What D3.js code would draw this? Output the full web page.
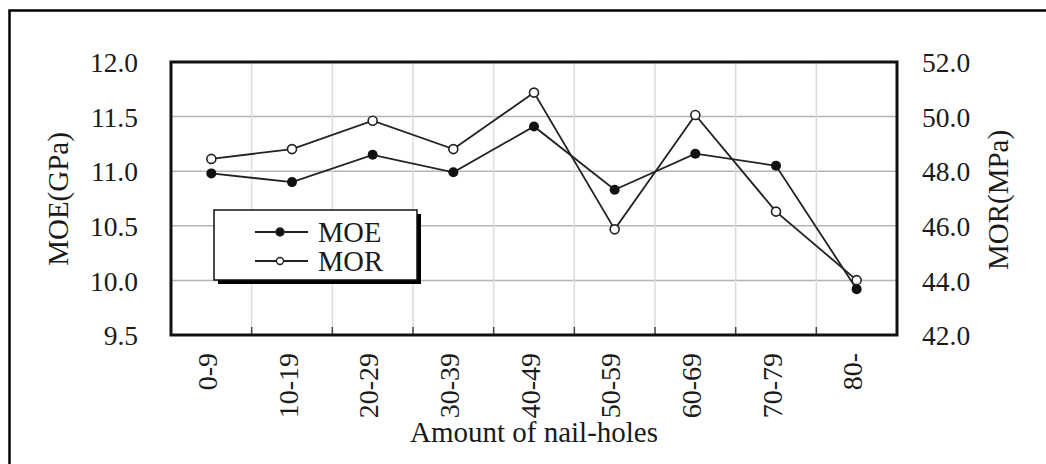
<!DOCTYPE html>
<html>
<head>
<meta charset="utf-8">
<script src="https://cdn.jsdelivr.net/npm/d3@7"></script>
<style>
  body { margin: 0; background: #fff; }
  svg { display: block; }
  text { font-family: "Liberation Serif", "DejaVu Serif", serif; fill: #1a1a1a; }
</style>
</head>
<body>
<svg width="1046" height="464"></svg>
<script>
      const categories = ['0-9', '10-19', '20-29', '30-39', '40-49', '50-59', '60-69', '70-79', '80-'];
      const moeValues = [10.98, 10.90, 11.15, 10.99, 11.41, 10.83, 11.16, 11.05, 9.92];
      const morValues = [48.45, 48.81, 49.85, 48.81, 50.88, 45.87, 50.06, 46.52, 44.01];
      const moeTicks = [9.5, 10.0, 10.5, 11.0, 11.5, 12.0];
      const morTicks = [42, 44, 46, 48, 50, 52];
      const xLabel = 'Amount of nail-holes';
      const moeLabel = 'MOE(GPa)';
      const morLabel = 'MOR(MPa)';

      const margin = { left: 171, right: 149, top: 62, bottom: 129 };

      const svg = d3.select('svg');
      const width = +svg.attr('width');
      const height = +svg.attr('height');
      const innerWidth = width - margin.left - margin.right;
      const innerHeight = height - margin.top - margin.bottom;

      // outer frame, open at right and bottom (cut off in the picture)
      svg.append('path')
        .attr('d', `M9.5,${height} V10.5 H${width}`)
        .attr('fill', 'none').attr('stroke', '#000').attr('stroke-width', 2.5);

      const g = svg.append('g')
        .attr('transform', `translate(${margin.left},${margin.top})`);

      const xScale = d3.scaleBand().domain(categories).range([0, innerWidth]).padding(0);
      const yLeft = d3.scaleLinear().domain([9.5, 12.0]).range([innerHeight, 0]);
      const yRight = d3.scaleLinear().domain([42, 52]).range([innerHeight, 0]);

      // grid
      g.append('g').selectAll('line').data(moeTicks.slice(1, -1))
        .enter().append('line')
          .attr('x1', 0).attr('x2', innerWidth)
          .attr('y1', d => yLeft(d)).attr('y2', d => yLeft(d))
          .attr('stroke', '#b5b5b5').attr('stroke-width', 1.5);
      g.append('g').selectAll('line').data(categories.slice(1))
        .enter().append('line')
          .attr('x1', d => xScale(d)).attr('x2', d => xScale(d))
          .attr('y1', 0).attr('y2', innerHeight)
          .attr('stroke', '#dcdcdc').attr('stroke-width', 1.5);

      // axes
      const yAxisL = d3.axisLeft(yLeft).tickValues(moeTicks).tickFormat(d3.format('.1f'))
        .tickSize(0).tickPadding(33);
      const yAxisR = d3.axisRight(yRight).tickValues(morTicks).tickFormat(d3.format('.1f'))
        .tickSize(0).tickPadding(25);

      const yAxisLG = g.append('g').call(yAxisL);
      const yAxisRG = g.append('g').attr('transform', `translate(${innerWidth},0)`).call(yAxisR);
      [yAxisLG, yAxisRG].forEach(a => {
        a.select('.domain').remove();
        a.selectAll('text').attr('font-size', 27.5).attr('font-family', null).attr('dy', '0.35em');
      });

      const xAxisG = g.append('g').attr('transform', `translate(0,${innerHeight})`);
      xAxisG.selectAll('text').data(categories)
        .enter().append('text')
          .attr('transform', d => `translate(${xScale(d) + xScale.bandwidth() / 2 - 4},18) rotate(-90)`)
          .attr('text-anchor', 'end')
          .attr('dy', '0.35em')
          .attr('font-size', 28)
          .text(d => d);
      xAxisG.selectAll('line.tick').data(categories.slice(1))
        .enter().append('line')
          .attr('class', 'tick')
          .attr('x1', d => xScale(d)).attr('x2', d => xScale(d))
          .attr('y1', 0).attr('y2', -8)
          .attr('stroke', '#444').attr('stroke-width', 1.5);

      xAxisG.append('text')
        .attr('x', innerWidth / 2).attr('y', 107)
        .attr('text-anchor', 'middle')
        .attr('font-size', 29)
        .text(xLabel);

      svg.append('text')
        .attr('transform', `translate(58,199) rotate(-90)`)
        .attr('text-anchor', 'middle').attr('dy', '0.35em')
        .attr('font-size', 29)
        .text(moeLabel);
      svg.append('text')
        .attr('transform', `translate(998,200) rotate(-90)`)
        .attr('text-anchor', 'middle').attr('dy', '0.35em')
        .attr('font-size', 29)
        .text(morLabel);

      // lines
      const moeData = categories.map((c, i) => ({ c, v: moeValues[i] }));
      const morData = categories.map((c, i) => ({ c, v: morValues[i] }));
      const cx = d => xScale(d.c) + xScale.bandwidth() / 2;

      g.append('path').datum(moeData)
        .attr('fill', 'none').attr('stroke', '#222').attr('stroke-width', 1.8)
        .attr('d', d3.line().x(cx).y(d => yLeft(d.v)));
      g.append('path').datum(morData)
        .attr('fill', 'none').attr('stroke', '#222').attr('stroke-width', 1.8)
        .attr('d', d3.line().x(cx).y(d => yRight(d.v)));

      g.selectAll('circle.moe').data(moeData)
        .enter().append('circle')
          .attr('class', 'moe')
          .attr('cx', cx).attr('cy', d => yLeft(d.v))
          .attr('r', 5).attr('fill', '#111');
      g.selectAll('circle.mor').data(morData)
        .enter().append('circle')
          .attr('class', 'mor')
          .attr('cx', cx).attr('cy', d => yRight(d.v))
          .attr('r', 4.5).attr('fill', '#fff').attr('stroke', '#222').attr('stroke-width', 1.6);

      // plot frame
      g.append('rect')
        .attr('width', innerWidth).attr('height', innerHeight)
        .attr('fill', 'none').attr('stroke', '#111').attr('stroke-width', 3);

      // legend
      const legendG = svg.append('g').attr('transform', 'translate(214,210)');
      legendG.append('rect')
        .attr('x', 4).attr('y', 4).attr('width', 203).attr('height', 70).attr('fill', '#000');
      legendG.append('rect')
        .attr('width', 203).attr('height', 70)
        .attr('fill', '#fff').attr('stroke', '#111').attr('stroke-width', 1.5);
      const legendItems = [{ name: 'MOE', filled: true, y: 22 }, { name: 'MOR', filled: false, y: 51 }];
      legendItems.forEach(it => {
        legendG.append('line')
          .attr('x1', 41).attr('x2', 94).attr('y1', it.y).attr('y2', it.y)
          .attr('stroke', '#222').attr('stroke-width', 1.8);
        legendG.append('circle')
          .attr('cx', 66).attr('cy', it.y).attr('r', it.filled ? 4 : 3.5)
          .attr('fill', it.filled ? '#111' : '#fff')
          .attr('stroke', '#222').attr('stroke-width', 1.4);
        legendG.append('text')
          .attr('x', 104).attr('y', it.y).attr('dy', '0.35em')
          .attr('font-size', 28.5)
          .text(it.name);
      });
</script>
</body>
</html>
